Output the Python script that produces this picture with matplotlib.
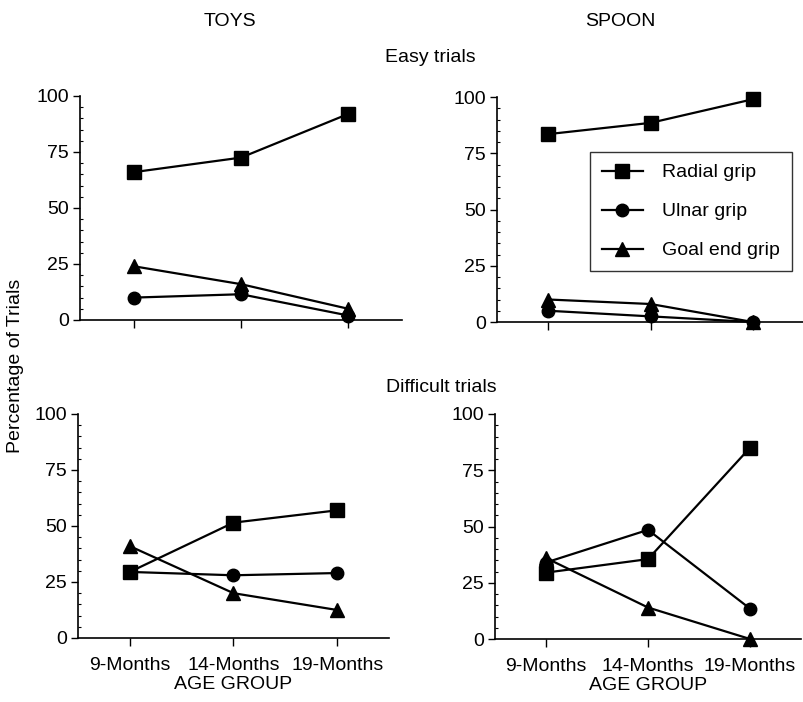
import numpy as np
import matplotlib
matplotlib.use("Agg")
import matplotlib.pyplot as plt
from matplotlib.ticker import MultipleLocator

plt.rcParams['font.family'] = ['Liberation Sans', 'DejaVu Sans']

############################### Data #############################################

ages = ["9-Months", "14-Months", "19-Months"]
series = ["Radial grip", "Ulnar grip", "Goal end grip"]
markers = ["s", "o", "^"]

# easy trials
toys_easy_radial = [66, 72.5, 92]
toys_easy_ulnar = [10, 11.5, 2]
toys_easy_goal = [24, 16, 5]

spoon_easy_radial = [83.5, 88.5, 99]
spoon_easy_ulnar = [5, 2.5, 0]
spoon_easy_goal = [10, 8, 0]

# difficult trials
toys_diff_radial = [29.5, 51.5, 57]
toys_diff_ulnar = [29.5, 28, 29]
toys_diff_goal = [41, 20, 12.5]

spoon_diff_radial = [29.5, 35.5, 85]
spoon_diff_ulnar = [34, 48.5, 13.5]
spoon_diff_goal = [36, 14, 0]

panels = [
    ([80, 320, 402, 96], [toys_easy_radial, toys_easy_ulnar, toys_easy_goal], False),
    ([497, 322, 804, 97], [spoon_easy_radial, spoon_easy_ulnar, spoon_easy_goal], False),
    ([78, 638, 389, 414], [toys_diff_radial, toys_diff_ulnar, toys_diff_goal], True),
    ([495, 639, 801, 414], [spoon_diff_radial, spoon_diff_ulnar, spoon_diff_goal], True),
]

W, H = 804, 702
fig = plt.figure(figsize=(W / 100, H / 100), dpi=100)

axes = []
for (x0, y0, x1, y1), vals, bottom in panels:
    ax = fig.add_axes([x0 / W, 1 - y0 / H, (x1 - x0) / W, (y0 - y1) / H])
    x = np.arange(len(ages))
    for v, m, lab in zip(vals, markers, series):
        ax.plot(x, v, color="black", lw=1.6, marker=m, ms=9.5 if m != "o" else 9,
                mfc="black", mec="black", clip_on=False, label=lab, zorder=3)
    ax.set_xlim(-0.5, 2.5)
    ax.set_ylim(0, 100)
    ax.spines["top"].set_visible(False)
    ax.spines["right"].set_visible(False)
    ax.spines["left"].set_linewidth(1.2)
    ax.spines["bottom"].set_linewidth(1.2)
    ax.yaxis.set_major_locator(MultipleLocator(25))
    ax.yaxis.set_minor_locator(MultipleLocator(5))
    ax.tick_params(axis="y", which="major", direction="out", length=5, width=1, labelsize=14, pad=3)
    ax.tick_params(axis="y", which="minor", direction="in", length=2.5, width=0.8)
    ax.set_xticks(x)
    ax.tick_params(axis="x", direction="out", length=6, width=1, labelsize=14, pad=8)
    if bottom:
        ax.set_xticklabels(ages)
        ax.set_xlabel("AGE GROUP", fontsize=14, labelpad=1)
    else:
        ax.set_xticklabels([])
    axes.append(ax)

# legend in the spoon easy panel
leg = axes[1].legend(loc="upper left", bbox_to_anchor=(0.303, 0.755), fontsize=14,
                     frameon=True, fancybox=False, edgecolor="black", handlelength=2.1,
                     labelspacing=1.1, borderpad=0.6, handletextpad=1.0, borderaxespad=0)
leg.get_frame().set_linewidth(1.0)

fig.text(230 / W, 1 - 21 / H, "TOYS", ha="center", va="center", fontsize=14)
fig.text(620 / W, 1 - 21 / H, "SPOON", ha="center", va="center", fontsize=14)
fig.text(430 / W, 1 - 57 / H, "Easy trials", ha="center", va="center", fontsize=14)
fig.text(441 / W, 1 - 388 / H, "Difficult trials", ha="center", va="center", fontsize=14)
fig.text(16 / W, 1 - 366 / H, "Percentage of Trials", ha="center", va="center",
         rotation=90, fontsize=14)

plt.savefig("out.png", dpi=100)
